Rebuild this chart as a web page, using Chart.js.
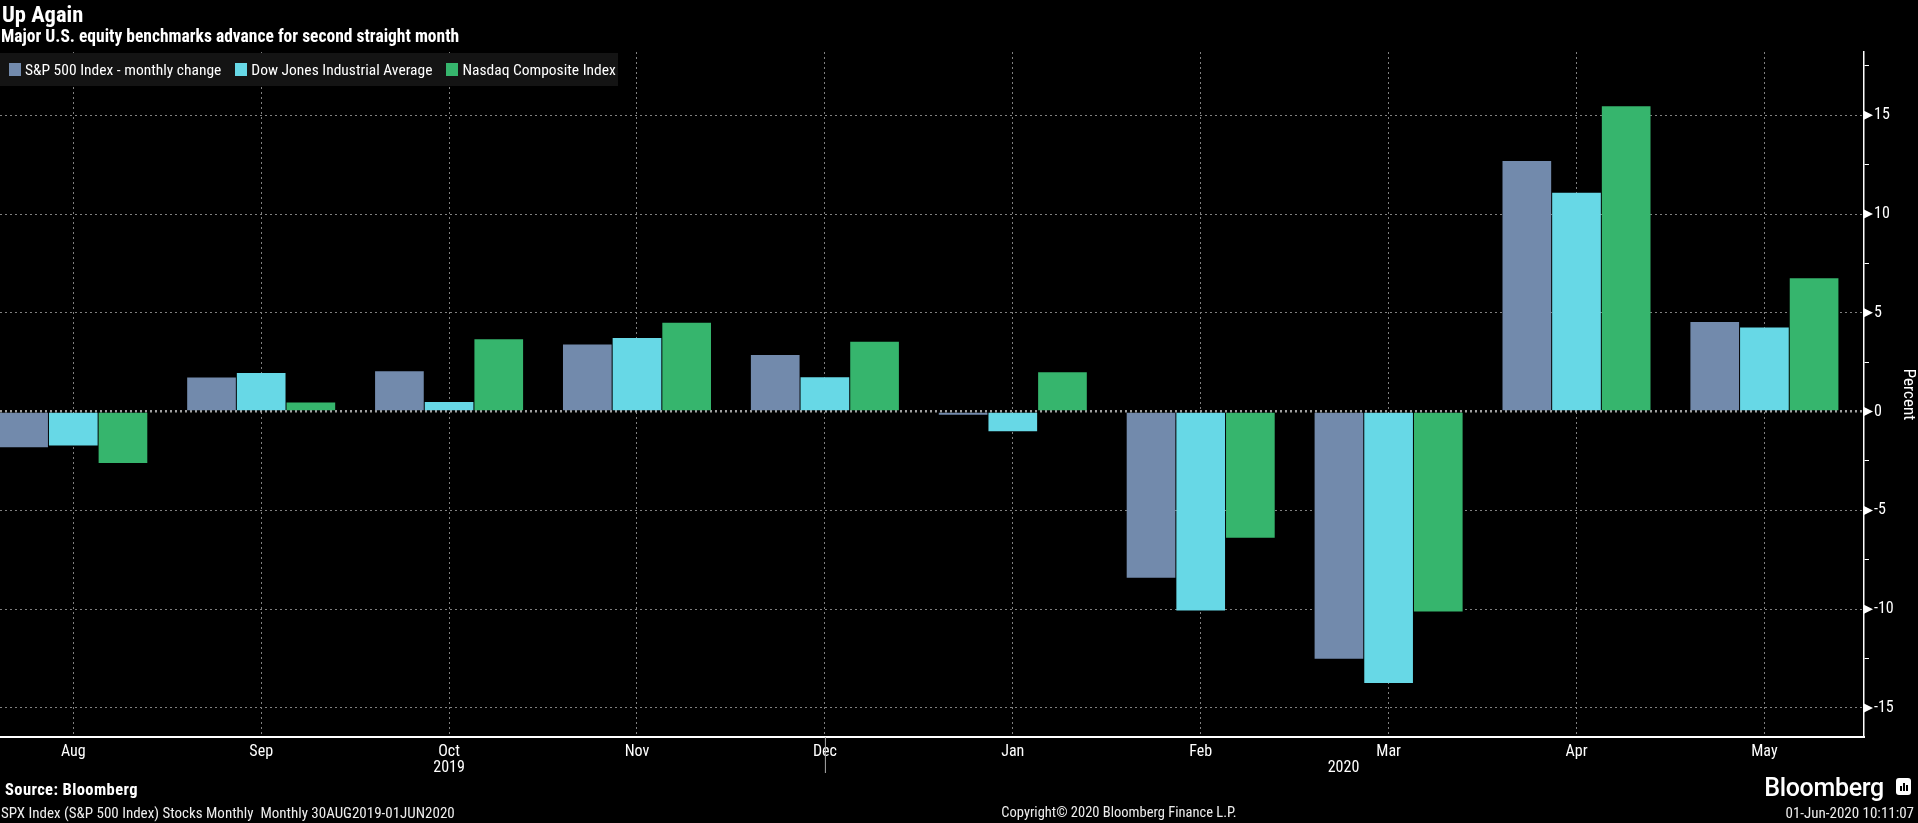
<!DOCTYPE html>
<html>
<head>
<meta charset="utf-8">
<script src="https://cdn.jsdelivr.net/npm/chart.js@4"></script>
<style>
  html, body { margin:0; padding:0; background:#000; }
  #wrap { position:relative; width:1918px; height:823px; overflow:hidden; background:#000;
          font-family:"Roboto Condensed","Roboto",sans-serif; color:#fff; }
  #c { position:absolute; left:0; top:0; }
  .t { position:absolute; white-space:nowrap; }
  #title { left:2px; top:1px; font-size:22.5px; font-weight:bold; }
  #subtitle { left:1px; top:26px; font-size:17.5px; font-weight:bold; }
  #legend { position:absolute; left:0; top:53px; width:618px; height:33px; background:#141414;
            display:flex; align-items:center; flex-wrap:nowrap; overflow:visible; }
  .li { display:flex; align-items:center; flex:0 0 auto; white-space:nowrap; font-size:15.5px; color:#fff; margin-left:9px; margin-right:5px; }
  .sw { width:12px; height:13px; margin-right:4px; flex:0 0 auto; }
  #source { left:5px; top:780px; font-size:16.5px; font-weight:bold; letter-spacing:0.4px; }
  #foot1 { left:1px; top:804px; font-size:15px; color:#eee; }
  #foot2 { left:1119px; top:804px; font-size:14.5px; color:#eee; transform:translateX(-50%); }
  #foot3 { right:4px; top:804px; font-size:15px; color:#eee; }
  #logo { right:34px; top:773px; font-family:"Roboto",sans-serif; font-size:25px; font-weight:500; letter-spacing:-0.3px; }
  #icon { position:absolute; left:1896px; top:778px; width:15px; height:17px; background:#fff; border-radius:3px; }
  #icon i { position:absolute; bottom:4px; width:2px; background:#000; }
</style>
</head>
<body>
<div id="wrap">
  <canvas id="c" width="1918" height="823"></canvas>
  <div class="t" id="title">Up Again</div>
  <div class="t" id="subtitle">Major U.S. equity benchmarks advance for second straight month</div>
  <div id="legend"></div>
  <div class="t" id="source">Source: Bloomberg</div>
  <div class="t" id="foot1">SPX Index (S&amp;P 500 Index) Stocks Monthly&nbsp; Monthly 30AUG2019-01JUN2020</div>
  <div class="t" id="foot2">Copyright© 2020 Bloomberg Finance L.P.</div>
  <div class="t" id="foot3">01-Jun-2020 10:11:07</div>
  <div class="t" id="logo">Bloomberg</div>
  <div id="icon"><i style="left:4px;height:5px"></i><i style="left:7px;height:8px"></i><i style="left:10px;height:6px"></i></div>
</div>
<script>
// ---- data ----
const months = ['Aug','Sep','Oct','Nov','Dec','Jan','Feb','Mar','Apr','May'];
const seriesNames = ['S&P 500 Index - monthly change','Dow Jones Industrial Average','Nasdaq Composite Index'];
const spx  = [-1.81, 1.72, 2.04, 3.40, 2.86, -0.16, -8.41, -12.51, 12.68, 4.53];
const dji  = [-1.72, 1.95, 0.48, 3.72, 1.74, -0.99, -10.07, -13.74, 11.08, 4.26];
const ccmp = [-2.60, 0.46, 3.66, 4.50, 3.54, 1.99, -6.38, -10.12, 15.45, 6.75];
const yearLabels = ['2019','2020'];
const seriesColors = ['#728AAC','#67D8E6','#36B56D'];

const FONT = '"Roboto Condensed","Roboto",sans-serif';

// legend (HTML)
const leg = document.getElementById('legend');
seriesNames.forEach((n,i)=>{
  const d = document.createElement('div'); d.className='li';
  const s = document.createElement('div'); s.className='sw'; s.style.background=seriesColors[i];
  const t = document.createElement('span'); t.textContent=n;
  d.appendChild(s); d.appendChild(t); leg.appendChild(d);
});

const toPts = arr => arr.map((v,i)=>({x:i, y:v}));

const extras = {
  id:'extras',
  afterDraw(chart){
    const ctx = chart.ctx, y = chart.scales.y, x = chart.scales.x, ca = chart.chartArea;
    ctx.save();
    // triangles at major y ticks
    ctx.fillStyle = '#fff';
    y.ticks.forEach(t=>{
      if (Math.abs(t.value % 5) < 1e-9) {
        const py = y.getPixelForValue(t.value);
        ctx.beginPath();
        ctx.moveTo(ca.right, py-4.5);
        ctx.lineTo(ca.right+9, py);
        ctx.lineTo(ca.right, py+4.5);
        ctx.closePath(); ctx.fill();
      }
    });
    // year separator below axis at Dec
    const decX = x.getPixelForValue(months.indexOf('Dec'));
    ctx.strokeStyle = '#aaa'; ctx.lineWidth = 1;
    ctx.beginPath(); ctx.moveTo(decX+0.5, ca.bottom); ctx.lineTo(decX+0.5, ca.bottom+36); ctx.stroke();
    // year labels
    ctx.fillStyle = '#fff';
    ctx.font = '16px ' + FONT;
    ctx.textAlign = 'center'; ctx.textBaseline = 'middle';
    ctx.fillText(yearLabels[0], x.getPixelForValue(months.indexOf('Oct')), ca.bottom+31);
    ctx.fillText(yearLabels[1], x.getPixelForValue(months.indexOf('Mar') - 0.24), ca.bottom+31);
    ctx.restore();
  }
};

new Chart(document.getElementById('c'), {
  type:'bar',
  data:{
    datasets:[
      {label:seriesNames[0], data:toPts(spx),  backgroundColor:seriesColors[0]},
      {label:seriesNames[1], data:toPts(dji),  backgroundColor:seriesColors[1]},
      {label:seriesNames[2], data:toPts(ccmp), backgroundColor:seriesColors[2]}
    ]
  },
  options:{
    responsive:false, animation:false, devicePixelRatio:1,
    layout:{padding:{top:52, left:0, right:0, bottom:0}},
    datasets:{bar:{categoryPercentage:0.793, barPercentage:0.98, borderWidth:0}},
    plugins:{legend:{display:false}, tooltip:{enabled:false}},
    scales:{
      x:{
        type:'linear', offset:false, min:-0.39, max:9.53,
        afterFit(s){ s.height = 86; },
        afterBuildTicks(s){ s.ticks = months.map((m,i)=>({value:i})); },
        grid:{offset:false, color:'#808080', lineWidth:1, drawTicks:false},
        border:{display:true, color:'#fff', width:2, dash:[2,3]},
        ticks:{color:'#fff', padding:5, autoSkip:false, maxRotation:0,
               font:{family:FONT, size:16},
               callback:(v)=>months[v]}
      },
      y:{
        position:'right', min:-16.47, max:18.2,
        afterFit(s){ s.width = 54; },
        grid:{
          color:(c)=> Math.abs(c.tick.value % 5) < 1e-9 ? (c.tick.value===0 ? '#a0a0a0' : '#808080') : 'rgba(0,0,0,0)',
          lineWidth:(c)=> c.tick.value===0 ? 2.5 : 1,
          tickBorderDash:[], tickColor:'#fff', tickLength:5, tickWidth:1
        },
        border:{display:true, color:'#fff', width:1.5, dash:[2,3]},
        ticks:{stepSize:2.5, includeBounds:false, color:'#fff', padding:5,
               font:{family:FONT, size:16},
               callback:(v)=> Math.abs(v % 5) < 1e-9 ? String(v) : ''},
        title:{display:true, text:'Percent', color:'#fff', padding:{top:0,bottom:2},
               font:{family:FONT, size:17}}
      }
    }
  },
  plugins:[extras]
});
</script>
</body>
</html>
